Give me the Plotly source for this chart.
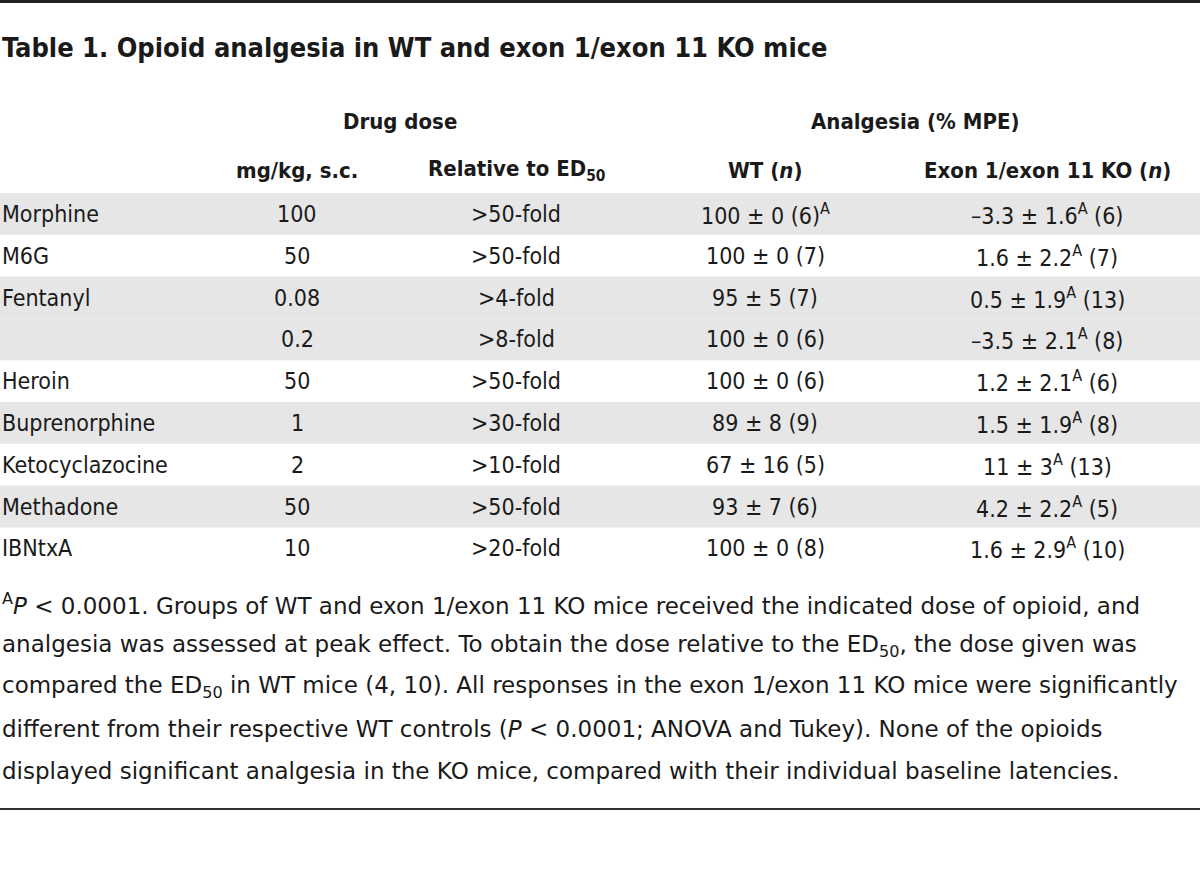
import plotly.graph_objects as go

# ---------------- data ----------------
title = "Table 1. Opioid analgesia in WT and exon 1/exon 11 KO mice"
group_headers = ["Drug dose", "Analgesia (% MPE)"]
col_headers = ["mg/kg, s.c.", "Relative to ED<sub>50</sub>", "WT (<i>n</i>)", "Exon 1/exon 11 KO (<i>n</i>)"]

drugs = ["Morphine", "M6G", "Fentanyl", "", "Heroin", "Buprenorphine", "Ketocyclazocine", "Methadone", "IBNtxA"]
doses = ["100", "50", "0.08", "0.2", "50", "1", "2", "50", "10"]
relative = [">50-fold", ">50-fold", ">4-fold", ">8-fold", ">50-fold", ">30-fold", ">10-fold", ">50-fold", ">20-fold"]
wt = ["100 ± 0 (6)<sup>A</sup>", "100 ± 0 (7)", "95 ± 5 (7)", "100 ± 0 (6)", "100 ± 0 (6)",
      "89 ± 8 (9)", "67 ± 16 (5)", "93 ± 7 (6)", "100 ± 0 (8)"]
ko = ["–3.3 ± 1.6<sup>A</sup> (6)", "1.6 ± 2.2<sup>A</sup> (7)", "0.5 ± 1.9<sup>A</sup> (13)",
      "–3.5 ± 2.1<sup>A</sup> (8)", "1.2 ± 2.1<sup>A</sup> (6)", "1.5 ± 1.9<sup>A</sup> (8)",
      "11 ± 3<sup>A</sup> (13)", "4.2 ± 2.2<sup>A</sup> (5)", "1.6 ± 2.9<sup>A</sup> (10)"]
shaded = [1, 0, 1, 1, 0, 1, 0, 1, 0]

footnote = [
    "<sup>A</sup><i>P</i> &lt; 0.0001. Groups of WT and exon 1/exon 11 KO mice received the indicated dose of opioid, and",
    "analgesia was assessed at peak effect. To obtain the dose relative to the ED<sub>50</sub>, the dose given was",
    "compared the ED<sub>50</sub> in WT mice (4, 10). All responses in the exon 1/exon 11 KO mice were significantly",
    "different from their respective WT controls (<i>P</i> &lt; 0.0001; ANOVA and Tukey). None of the opioids",
    "displayed significant analgesia in the KO mice, compared with their individual baseline latencies.",
]

# ---------------- layout constants ----------------
W, H = 1200, 880
TFONT = "DejaVu Sans Condensed, Liberation Sans Narrow, sans-serif"
FFONT = "DejaVu Sans, Verdana, sans-serif"
BODY = 23
HEAD = 22
FOOT = 23
COLOR = "#1a1a1a"

row_top = 193
row_h = 41.8
col_x = [297, 516, 765, 1047]
group_x = [400, 915]

fig = go.Figure()
fig.add_trace(go.Scatter(x=[0, W], y=[0, H], mode="markers", marker=dict(opacity=0),
                         hoverinfo="skip", showlegend=False))

shapes = []
annots = []


def txt(x, y, s, size, bold=False, anchor="center", font=TFONT):
    if bold:
        s = "<b>" + s + "</b>"
    annots.append(dict(x=x, y=y, xref="x", yref="y", text=s, showarrow=False,
                       xanchor=anchor, yanchor="middle",
                       font=dict(family=font, size=size, color=COLOR)))


# top line
shapes.append(dict(type="line", x0=0, x1=W, y0=1.5, y1=1.5, xref="x", yref="y",
                   line=dict(color="#222222", width=3)))
# title
txt(0, 47, title, 27, bold=True, anchor="left")
# group headers
for gx, g in zip(group_x, group_headers):
    txt(gx, 121, g, HEAD, bold=True)
for cx, c in zip(col_x, col_headers):
    txt(cx, 170, c, HEAD, bold=True)

# row shading
for i, s in enumerate(shaded):
    if s:
        shapes.append(dict(type="rect", x0=0, x1=W, y0=row_top + i * row_h, y1=row_top + (i + 1) * row_h,
                           xref="x", yref="y", fillcolor="#e6e6e6", line=dict(width=0), layer="below"))

for i in range(len(drugs)):
    yc = row_top + (i + 0.5) * row_h
    if drugs[i]:
        txt(0, yc, drugs[i], BODY, anchor="left")
    txt(col_x[0], yc, doses[i], BODY)
    txt(col_x[1], yc, relative[i], BODY)
    txt(col_x[2], yc, wt[i], BODY)
    txt(col_x[3], yc, ko[i], BODY)

# footnote
for j, line in enumerate(footnote):
    txt(0, 604 + j * 41.7, line, FOOT, anchor="left", font=FFONT)

# bottom line
shapes.append(dict(type="line", x0=0, x1=W, y0=809, y1=809, xref="x", yref="y",
                   line=dict(color="#333333", width=2)))

fig.update_layout(
    width=W, height=H, margin=dict(l=0, r=0, t=0, b=0),
    paper_bgcolor="white", plot_bgcolor="white",
    xaxis=dict(range=[0, W], visible=False, fixedrange=True),
    yaxis=dict(range=[H, 0], visible=False, fixedrange=True),
    shapes=shapes, annotations=annots, showlegend=False,
)
fig.write_html("out.html", config={"displayModeBar": False},
               post_script="document.body.style.margin='0px';")
